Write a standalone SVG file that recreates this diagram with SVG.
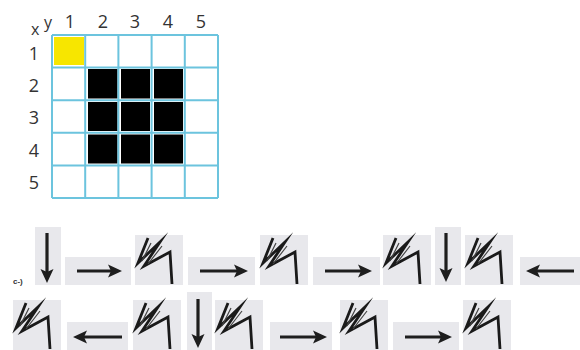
<svg xmlns="http://www.w3.org/2000/svg" xmlns:xlink="http://www.w3.org/1999/xlink" width="580" height="350" viewBox="0 0 580 350">
<style>
.lbl{font-family:"Open Sans","Noto Sans","Liberation Sans",sans-serif;font-size:18px;fill:#333}
.ax{font-family:"Open Sans","Noto Sans","Liberation Sans",sans-serif;font-size:16px;fill:#333}
.grid{stroke:#6cc4de;stroke-width:2;fill:none}
.tile{fill:#e8e8ec}
.arr{stroke:#1e1e1e;stroke-width:3.2;fill:none;marker-end:url(#head)}
.zig{stroke:#1a1a1a;stroke-width:2.8;fill:none;stroke-linejoin:miter;stroke-miterlimit:10}
</style>
<defs>
<marker id="head" markerUnits="userSpaceOnUse" markerWidth="15" markerHeight="15" refX="4" refY="7.5" orient="auto">
<path d="M0,1 L14,7.5 L0,14 L3,7.5 z" fill="#1e1e1e"/>
</marker>
<g id="zigtile">
<rect class="tile" x="0" y="0" width="48" height="50"/>
<path class="zig" d="M13,3 L3,28 L25,7 L9,31 L35,17 L37,49"/>
<path d="M16,8 L7,26 M27,11 L13,29" stroke="#444" stroke-width="1.2" fill="none"/>
</g>
</defs>
<rect width="580" height="350" fill="#fff"/>

<g id="grid">
<rect x="54" y="37" width="30" height="28" fill="#f7e600"/>
<rect x="88" y="69" width="29.5" height="29.5" fill="#000"/>
<rect x="121" y="69" width="29" height="29.5" fill="#000"/>
<rect x="154" y="69" width="29" height="29.5" fill="#000"/>
<rect x="88" y="102" width="29.5" height="29" fill="#000"/>
<rect x="121" y="102" width="29" height="29" fill="#000"/>
<rect x="154" y="102" width="29" height="29" fill="#000"/>
<rect x="88" y="134.5" width="29.5" height="29" fill="#000"/>
<rect x="121" y="134.5" width="29" height="29" fill="#000"/>
<rect x="154" y="134.5" width="29" height="29" fill="#000"/>
<path class="grid" d="M52,35 V198 M85.2,35 V198 M118.4,35 V198 M151.6,35 V198 M184.8,35 V198 M218,35 V198 M52,35 H218 M52,67.6 H218 M52,100.2 H218 M52,132.8 H218 M52,165.4 H218 M52,198 H218"/>
</g>

<g id="labels">
<text class="ax" x="31" y="35">x</text>
<text class="ax" x="44" y="28">y</text>
<text class="lbl" x="70" y="28" text-anchor="middle">1</text>
<text class="lbl" x="103" y="28" text-anchor="middle">2</text>
<text class="lbl" x="135" y="28" text-anchor="middle">3</text>
<text class="lbl" x="168" y="28" text-anchor="middle">4</text>
<text class="lbl" x="201" y="28" text-anchor="middle">5</text>
<text class="lbl" x="34" y="60" text-anchor="middle">1</text>
<text class="lbl" x="34" y="92" text-anchor="middle">2</text>
<text class="lbl" x="34" y="124" text-anchor="middle">3</text>
<text class="lbl" x="34" y="157" text-anchor="middle">4</text>
<text class="lbl" x="34" y="189" text-anchor="middle">5</text>
<text x="13" y="284" font-family="'Liberation Sans',Arial,sans-serif" font-size="8" font-weight="bold" fill="#333">c-)</text>
</g>

<g id="row1">
<rect class="tile" x="35" y="227" width="26" height="58"/>
<path class="arr" d="M47,233 V273"/>
<rect class="tile" x="65" y="257" width="66" height="28"/>
<path class="arr" d="M77,271 H112"/>
<use xlink:href="#zigtile" x="135" y="235"/>
<rect class="tile" x="188" y="257" width="67" height="28"/>
<path class="arr" d="M200,271 H238"/>
<use xlink:href="#zigtile" x="260" y="235"/>
<rect class="tile" x="313" y="257" width="67" height="28"/>
<path class="arr" d="M325,271 H362"/>
<use xlink:href="#zigtile" x="383" y="235"/>
<rect class="tile" x="435" y="227" width="26" height="58"/>
<path class="arr" d="M446,233 V272"/>
<use xlink:href="#zigtile" x="465" y="235"/>
<rect class="tile" x="520" y="257" width="60" height="28"/>
<path class="arr" d="M574,271 H536"/>
</g>

<g id="row2">
<use xlink:href="#zigtile" x="13" y="300"/>
<rect class="tile" x="67" y="322" width="61" height="28"/>
<path class="arr" d="M122,337 H83"/>
<use xlink:href="#zigtile" x="133" y="300"/>
<rect class="tile" x="187" y="292" width="25" height="58"/>
<path class="arr" d="M198,299 V338"/>
<use xlink:href="#zigtile" x="215" y="300"/>
<rect class="tile" x="270" y="322" width="62" height="28"/>
<path class="arr" d="M280,337 H317"/>
<use xlink:href="#zigtile" x="340" y="300"/>
<rect class="tile" x="393" y="322" width="66" height="28"/>
<path class="arr" d="M405,337 H442"/>
<use xlink:href="#zigtile" x="463" y="300"/>
</g>
</svg>
